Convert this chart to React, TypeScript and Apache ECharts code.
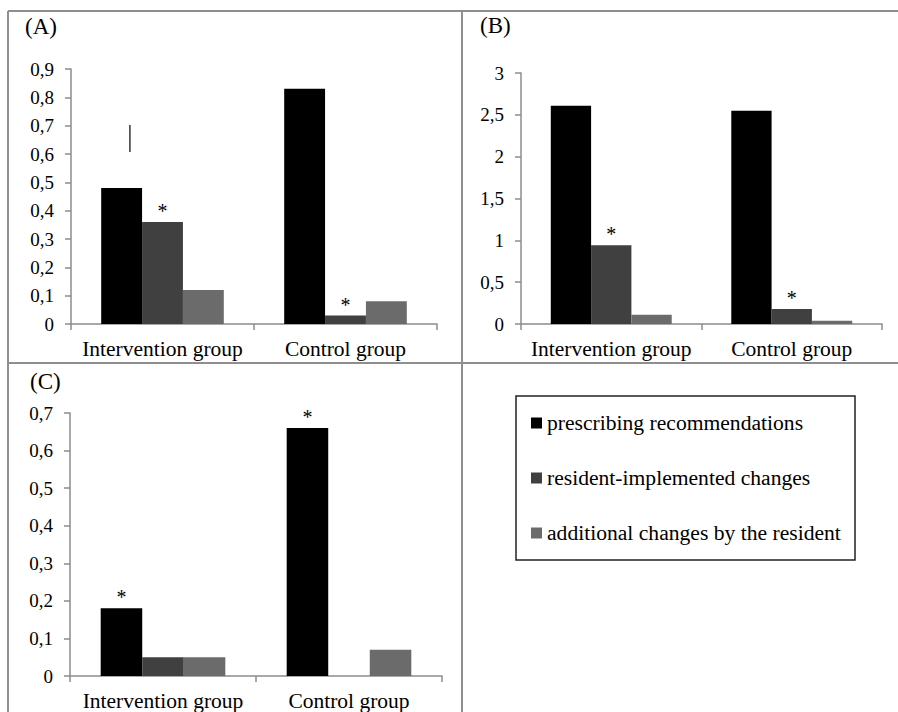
import React, { useEffect, useRef } from "react";
import * as echarts from "echarts";

const categories = ["Intervention group", "Control group"];
const seriesNames = [
  "prescribing recommendations",
  "resident-implemented changes",
  "additional changes by the resident",
];
const seriesColors = ["#000000", "#404040", "#6b6b6b"];

// Panel A
const aPrescribing = [0.48, 0.83];
const aResident = [0.36, 0.03];
const aAdditional = [0.12, 0.08];
const aStars = [[false, false], [true, true], [false, false]];
const aStrayLine = [0.607, 0.702];

// Panel B
const bPrescribing = [2.61, 2.55];
const bResident = [0.94, 0.18];
const bAdditional = [0.11, 0.04];
const bStars = [[false, false], [true, true], [false, false]];

// Panel C
const cPrescribing = [0.18, 0.66];
const cResident = [0.05, 0];
const cAdditional = [0.05, 0.07];
const cStars = [[true, true], [false, false], [false, false]];

const panelLabels = ["(A)", "(B)", "(C)"];
const yRanges = [
  { max: 0.9, interval: 0.1 },
  { max: 3, interval: 0.5 },
  { max: 0.7, interval: 0.1 },
];

const FONT = "Liberation Serif";
const AXIS_COLOR = "#8c8c8c";
const BORDER_COLOR = "#8f8f8f";

export default function App() {
  const ref = useRef<HTMLDivElement>(null);
  useEffect(() => {
    if (!ref.current) return;
    const chart = echarts.init(ref.current, undefined, { renderer: "svg" });

    const panels = [
      { values: [aPrescribing, aResident, aAdditional], stars: aStars },
      { values: [bPrescribing, bResident, bAdditional], stars: bStars },
      { values: [cPrescribing, cResident, cAdditional], stars: cStars },
    ];

    const grids = [
      { left: 71, right: 461, top: 69, bottom: 388 },
      { left: 521, right: 16, top: 73, bottom: 388 },
      { left: 70, right: 456, top: 413, bottom: 35 },
    ];

    const fmt = (v: number) => {
      const r = Math.round(v * 10) / 10;
      return String(r).replace(".", ",");
    };

    const xAxes = grids.map((_, i) => ({
      type: "category",
      gridIndex: i,
      data: categories,
      axisLine: { show: true, lineStyle: { color: AXIS_COLOR, width: 1.5 } },
      axisTick: { show: true, length: 6, lineStyle: { color: AXIS_COLOR, width: 1.5 } },
      axisLabel: {
        fontFamily: FONT,
        fontSize: 21.5,
        color: "#000",
        margin: 14,
        interval: 0,
      },
      splitLine: { show: false },
    }));

    const yAxes = grids.map((_, i) => ({
      type: "value",
      gridIndex: i,
      min: 0,
      max: yRanges[i].max,
      interval: yRanges[i].interval,
      axisLine: { show: true, lineStyle: { color: AXIS_COLOR, width: 1.5 } },
      axisTick: { show: true, length: 6, lineStyle: { color: AXIS_COLOR, width: 1.5 } },
      splitLine: { show: false },
      axisLabel: {
        formatter: fmt,
        margin: 17,
        fontFamily: FONT,
        fontSize: 19,
        color: "#000",
      },
    }));

    const series: any[] = [];
    panels.forEach((p, gi) => {
      p.values.forEach((vals, si) => {
        series.push({
          type: "bar",
          name: seriesNames[si],
          xAxisIndex: gi,
          yAxisIndex: gi,
          barGap: "0%",
          barCategoryGap: "33%",
          itemStyle: { color: seriesColors[si] },
          data: vals.map((v, ci) => ({
            value: v,
            label: {
              show: p.stars[si][ci],
              position: "top",
              formatter: "*",
              fontFamily: FONT,
              fontSize: 20,
              color: "#000",
              distance: 1,
            },
          })),
        });
      });
    });

    series.push({
      type: "custom",
      xAxisIndex: 0,
      yAxisIndex: 0,
      silent: true,
      data: [[0, aStrayLine[0], aStrayLine[1]]],
      renderItem: (params: any, api: any) => {
        const s = api.coord([api.value(0), api.value(1)]);
        const e = api.coord([api.value(0), api.value(2)]);
        const w = api.size([1, 0])[0];
        const dx = -0.178 * w;
        return {
          type: "line",
          shape: { x1: s[0] + dx, y1: s[1], x2: e[0] + dx, y2: e[1] },
          style: { stroke: "#000", lineWidth: 1.2 },
        };
      },
    });

    chart.setOption({
      animation: false,
      backgroundColor: "#ffffff",
      textStyle: { fontFamily: FONT },
      grid: grids,
      xAxis: xAxes,
      yAxis: yAxes,
      series,
      legend: {
        data: seriesNames,
        orient: "vertical",
        left: 531,
        top: 412,
        padding: 0,
        icon: "rect",
        itemWidth: 11,
        itemHeight: 11,
        itemGap: 33,
        selectedMode: false,
        textStyle: { fontFamily: FONT, fontSize: 21.6, color: "#000" },
      },
      graphic: [
        { type: "line", shape: { x1: 8, y1: 11, x2: 898, y2: 11 }, style: { stroke: BORDER_COLOR, lineWidth: 2 } },
        { type: "line", shape: { x1: 8, y1: 11, x2: 8, y2: 712 }, style: { stroke: BORDER_COLOR, lineWidth: 2 } },
        { type: "line", shape: { x1: 8, y1: 363, x2: 898, y2: 363 }, style: { stroke: BORDER_COLOR, lineWidth: 2 } },
        { type: "line", shape: { x1: 462, y1: 11, x2: 462, y2: 712 }, style: { stroke: BORDER_COLOR, lineWidth: 2 } },
        {
          type: "rect",
          shape: { x: 516, y: 396, width: 339, height: 164 },
          style: { fill: "none", stroke: "#222", lineWidth: 1.5 },
        },
        { type: "text", x: 25, y: 15, style: { text: panelLabels[0], fontFamily: FONT, fontSize: 23, fill: "#000" } },
        { type: "text", x: 480, y: 14, style: { text: panelLabels[1], fontFamily: FONT, fontSize: 23, fill: "#000" } },
        { type: "text", x: 30, y: 370, style: { text: panelLabels[2], fontFamily: FONT, fontSize: 23, fill: "#000" } },
      ],
    });

    return () => chart.dispose();
  }, []);

  return (
    <div
      ref={ref}
      style={{ position: "absolute", left: 0, top: 0, width: 898, height: 712 }}
    />
  );
}
